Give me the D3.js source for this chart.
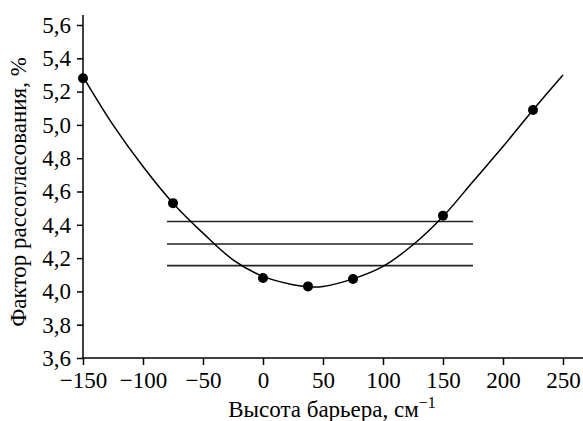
<!DOCTYPE html>
<html>
<head>
<meta charset="utf-8">
<script src="https://cdn.jsdelivr.net/npm/d3@7"></script>
<style>
  body { margin: 0; background: #fff; }
  svg { display: block; }
</style>
</head>
<body>
<svg width="583" height="421"></svg>
<script>
// measured points
const barrier = [-150, -75, 0, 37.5, 75, 150, 225]
const factor = [5.28, 4.53, 4.08, 4.03, 4.075, 4.455, 5.09]

// smooth fit curve
const fitX = [-150, -125, -100, -75, -50, -25, 0, 25, 37.5, 50, 75, 100, 125, 150, 175, 200, 225, 250]
const fitY = [5.29, 5.0, 4.75, 4.53, 4.35, 4.19, 4.09, 4.04, 4.028, 4.03, 4.075, 4.15, 4.28, 4.45, 4.66, 4.87, 5.09, 5.30]

// horizontal reference levels
const levels = [4.42, 4.285, 4.155]
const levelFrom = -80
const levelTo = 175

const xTicks = [-150, -100, -50, 0, 50, 100, 150, 200, 250]
const yTicks = [3.6, 3.8, 4.0, 4.2, 4.4, 4.6, 4.8, 5.0, 5.2, 5.4, 5.6]

const font = 'Liberation Serif'
const fontSize = 23

const svg = d3.select('svg')

const xScale = d3.scaleLinear().domain([-150, 250]).range([83, 563])
const yScale = d3.scaleLinear().domain([3.6, 5.6]).range([358, 25])

const comma = (d) => d.toFixed(1).replace('.', ',')

const xAxis = svg.append('g')
  .attr('transform', `translate(0,${yScale(3.6)})`)
  .call(d3.axisBottom(xScale).tickValues(xTicks).tickSizeOuter(0).tickSize(7).tickPadding(7))
xAxis.select('.domain').remove()
xAxis.append('line')
  .attr('x1', xScale(-150)).attr('x2', 583)
  .attr('stroke', '#000').attr('stroke-width', 1.5)

const yAxis = svg.append('g')
  .attr('transform', `translate(${xScale(-150)},0)`)
  .call(d3.axisLeft(yScale).tickValues(yTicks).tickFormat(comma).tickSizeOuter(0).tickSize(6).tickPadding(6))
yAxis.select('.domain').remove()
yAxis.append('line')
  .attr('y1', yScale(3.6)).attr('y2', 15)
  .attr('stroke', '#000').attr('stroke-width', 1.5)

svg.selectAll('g').attr('font-family', font).attr('font-size', fontSize)
svg.selectAll('.tick line').attr('stroke', '#000').attr('stroke-width', 1.5)
svg.selectAll('.tick text').attr('fill', '#000').attr('font-family', font)

// reference levels
svg.append('g').selectAll('line').data(levels).join('line')
  .attr('x1', xScale(levelFrom)).attr('x2', xScale(levelTo))
  .attr('y1', (d) => yScale(d)).attr('y2', (d) => yScale(d))
  .attr('stroke', '#222').attr('stroke-width', 1.6)

// fit curve
const line = d3.line()
  .x((d, i) => xScale(fitX[i]))
  .y((d) => yScale(d))
  .curve(d3.curveCatmullRom)

svg.append('path')
  .datum(fitY)
  .attr('d', line)
  .attr('fill', 'none')
  .attr('stroke', '#000')
  .attr('stroke-width', 1.5)

// points
svg.append('g').selectAll('circle').data(factor).join('circle')
  .attr('cx', (d, i) => xScale(barrier[i]))
  .attr('cy', (d) => yScale(d))
  .attr('r', 5)
  .attr('fill', '#000')

// axis titles
const xTitle = svg.append('text')
  .attr('x', 332)
  .attr('y', 417)
  .attr('text-anchor', 'middle')
  .attr('font-family', font)
  .attr('font-size', fontSize)
xTitle.append('tspan').text('Высота барьера, см')
xTitle.append('tspan').text('−1').attr('dy', -9).attr('font-size', 16)

svg.append('text')
  .attr('transform', 'translate(26,192) rotate(-90)')
  .attr('text-anchor', 'middle')
  .attr('font-family', font)
  .attr('font-size', fontSize)
  .text('Фактор рассогласования, %')
</script>
</body>
</html>
